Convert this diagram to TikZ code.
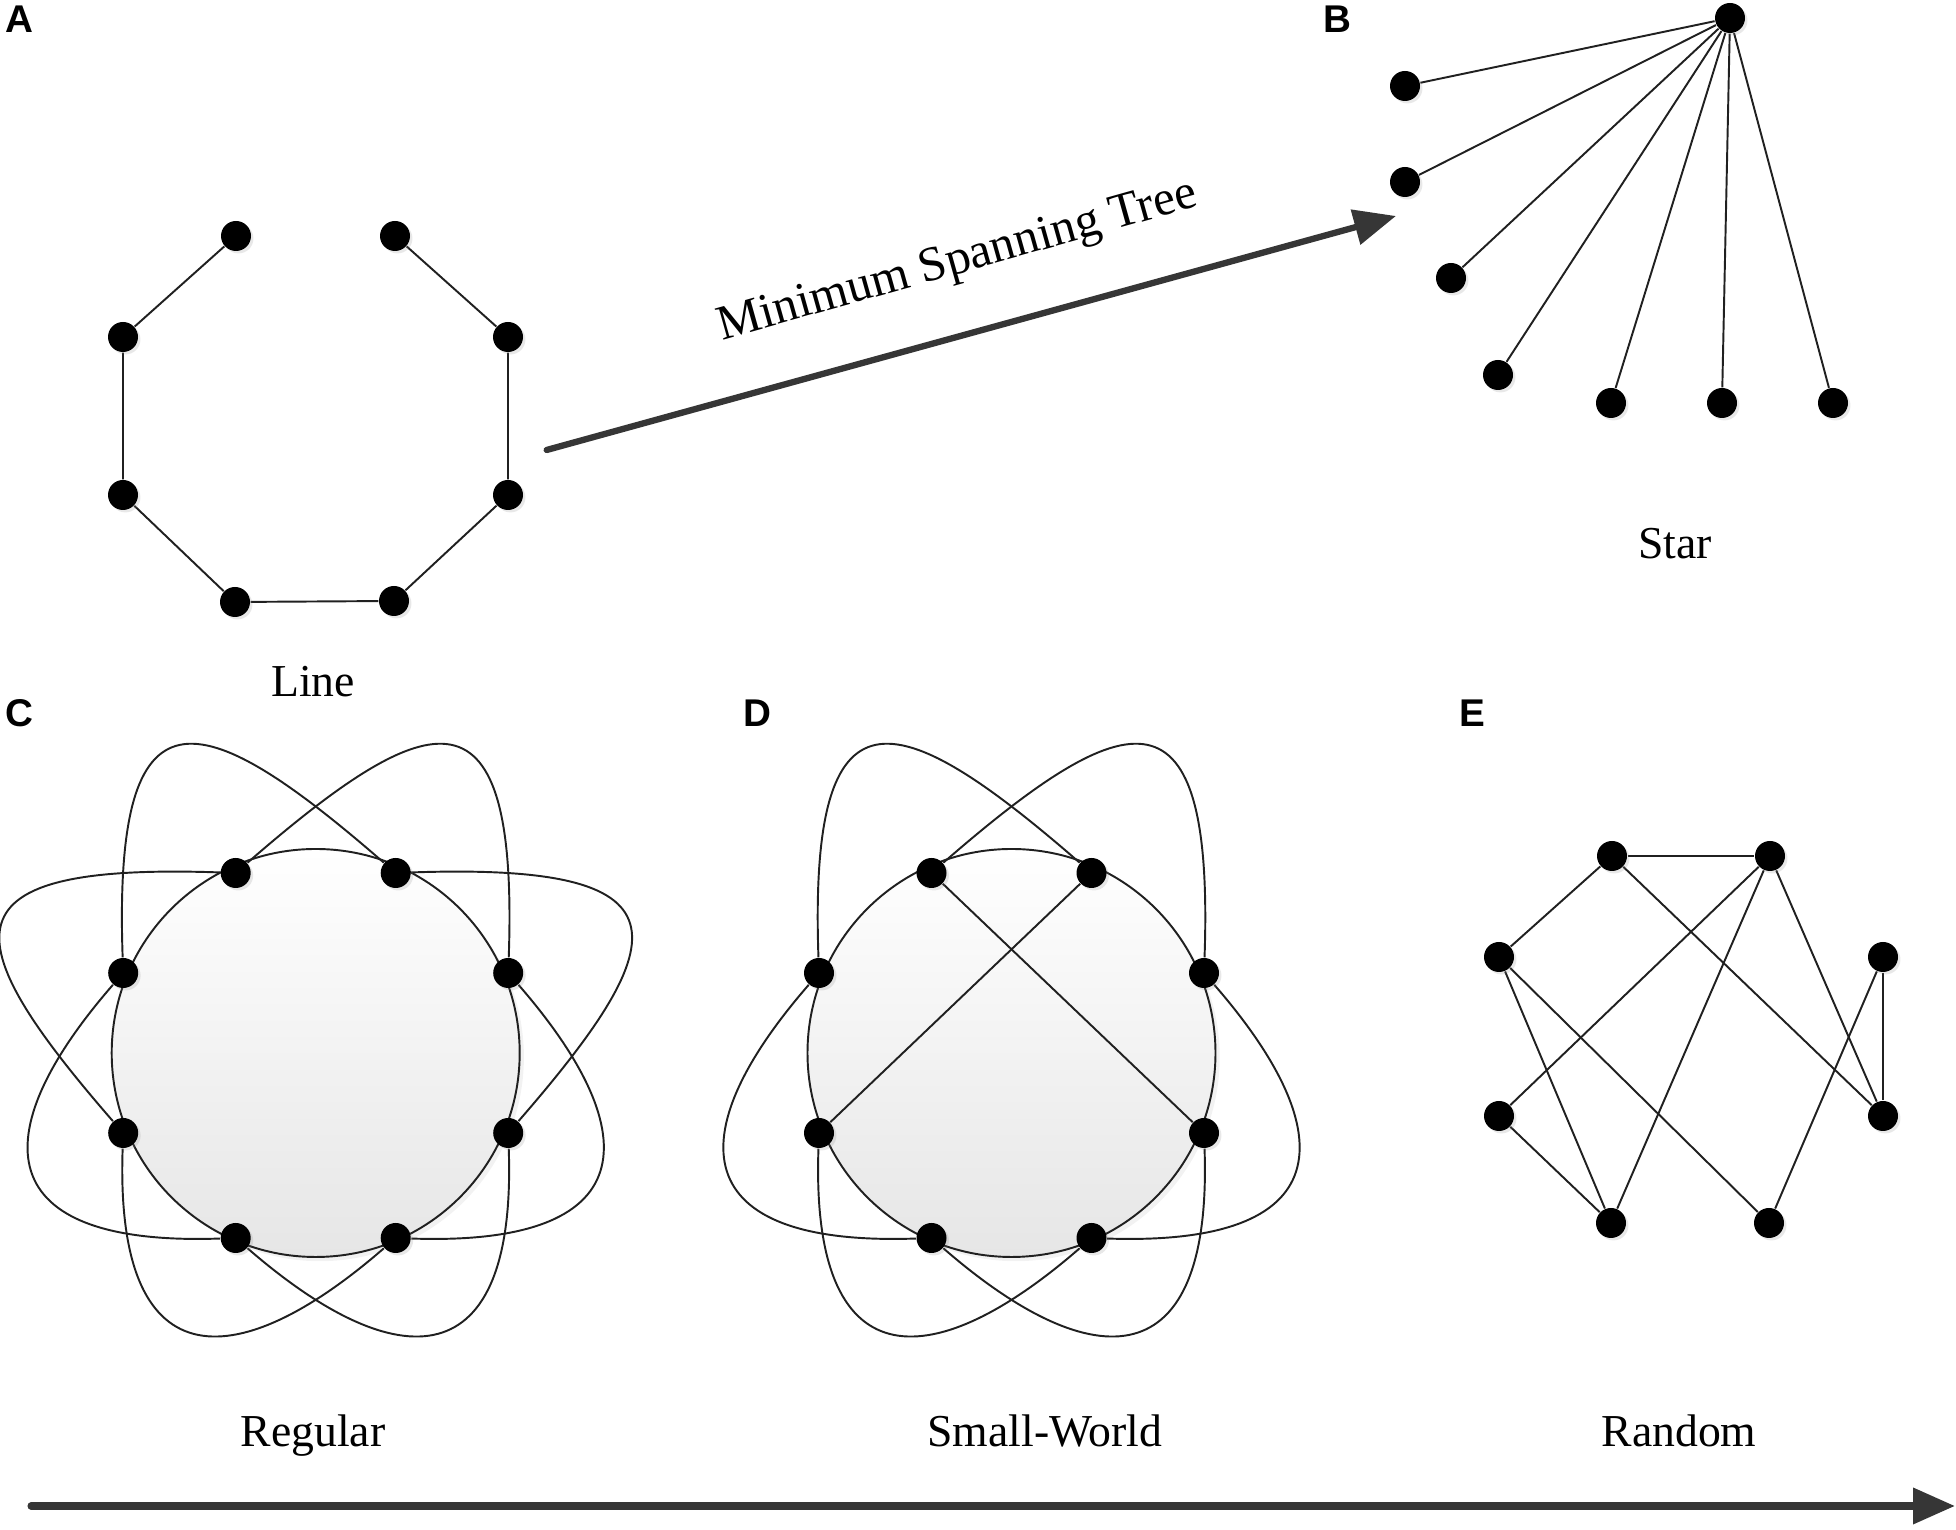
\documentclass[tikz,border=0pt]{standalone}
\usepackage{fontspec}
\setmainfont{Liberation Serif}
\newfontfamily\panelfont{Liberation Sans}
\usetikzlibrary{arrows.meta,shadows,backgrounds}
\definecolor{netline}{HTML}{202020}
\definecolor{netarrow}{HTML}{363636}
\definecolor{ringshade}{HTML}{E6E6E6}

\begin{document}
\begin{tikzpicture}[
    netnode/.style={circle, fill=black, inner sep=0pt, minimum size=0.3cm,
        drop shadow={shadow xshift=0.7pt, shadow yshift=-0.7pt, opacity=0.18}},
    link/.style={draw=netline, line width=0.55pt},
    ring/.style={circle, draw=netline, line width=0.55pt, minimum size=4.08cm, inner sep=0pt,
        top color=white, bottom color=ringshade,
        drop shadow={shadow xshift=1.2pt, shadow yshift=-1.2pt, opacity=0.10}},
    toploop/.style={out distance=2.8cm, in distance=2.45cm},
    lowloop/.style={out distance=2.3cm, in distance=2.0cm},
    bigarrow/.style={draw=netarrow, line width=1.8pt, line cap=round,
        -{Triangle[length=0.42cm, width=0.35cm]}},
    panellabel/.style={font=\panelfont\bfseries\fontsize{11}{13}\selectfont},
    caption/.style={anchor=base, font=\fontsize{13}{15}\selectfont}
]
    \useasboundingbox (0,0) rectangle (19.56,15.30);

    % Panel letters
    \node[panellabel] (labA) at (0.195,15.11) {A};
    \node[panellabel] (labB) at (13.37,15.11) {B};
    \node[panellabel] (labC) at (0.195,8.17) {C};
    \node[panellabel] (labD) at (7.57,8.17) {D};
    \node[panellabel] (labE) at (14.72,8.17) {E};

    % A: line
    \node[netnode] (l1) at (2.36,12.94) {};
    \node[netnode] (l2) at (3.95,12.94) {};
    \node[netnode] (l3) at (5.08,11.93) {};
    \node[netnode] (l4) at (5.08,10.35) {};
    \node[netnode] (l5) at (3.94,9.29) {};
    \node[netnode] (l6) at (2.35,9.28) {};
    \node[netnode] (l7) at (1.23,10.35) {};
    \node[netnode] (l8) at (1.23,11.93) {};
    \begin{pgfonlayer}{background}
        \draw[link] (l1) -- (l8) -- (l7) -- (l6) -- (l5) -- (l4) -- (l3) -- (l2);
    \end{pgfonlayer}
    \node[caption] (capline) at (3.13,8.33) {Line};

    % Minimum spanning tree arrow
    \coordinate (mstfrom) at (5.467,10.80);
    \coordinate (mstto) at (13.96,13.14);
    \draw[bigarrow] (mstfrom) -- (mstto);
    \node[anchor=base, rotate=15.7, font=\fontsize{14}{16}\selectfont] (msttext) at (9.61,12.57)
        {Minimum Spanning Tree};

    % B: star
    \node[netnode] (hub) at (17.30,15.12) {};
    \node[netnode] (st1) at (14.05,14.44) {};
    \node[netnode] (st2) at (14.05,13.48) {};
    \node[netnode] (st3) at (14.51,12.52) {};
    \node[netnode] (st4) at (14.98,11.55) {};
    \node[netnode] (st5) at (16.11,11.27) {};
    \node[netnode] (st6) at (17.22,11.27) {};
    \node[netnode] (st7) at (18.33,11.27) {};
    \begin{pgfonlayer}{background}
        \foreach \leaf in {1,...,7}
            \draw[link] (hub) -- (st\leaf);
    \end{pgfonlayer}
    \node[caption] (capstar) at (16.75,9.71) {Star};

    % C: regular ring lattice
    \node[netnode] (r1) at (2.357,6.57) {};
    \node[netnode] (r2) at (3.957,6.57) {};
    \node[netnode] (r3) at (5.082,5.57) {};
    \node[netnode] (r4) at (5.082,3.97) {};
    \node[netnode] (r5) at (3.957,2.92) {};
    \node[netnode] (r6) at (2.357,2.92) {};
    \node[netnode] (r7) at (1.232,3.97) {};
    \node[netnode] (r8) at (1.232,5.57) {};
    \begin{pgfonlayer}{background}
        \node[ring] (ringC) at (3.157,4.77) {};
        \draw[link] (r1) to[out=178, in=131, toploop] (r7);
        \draw[link] (r8) to[out=92, in=139, toploop] (r2);
        \draw[link] (r2) to[out=2, in=49, toploop] (r4);
        \draw[link] (r3) to[out=88, in=41, toploop] (r1);
        \draw[link] (r7) to[out=268, in=221, lowloop] (r5);
        \draw[link] (r6) to[out=182, in=229, lowloop] (r8);
        \draw[link] (r5) to[out=358, in=311, lowloop] (r3);
        \draw[link] (r4) to[out=272, in=319, lowloop] (r6);
    \end{pgfonlayer}
    \node[caption] (capreg) at (3.13,0.83) {Regular};

    % D: small world (two links rewired)
    \node[netnode] (s1) at (9.315,6.57) {};
    \node[netnode] (s2) at (10.915,6.57) {};
    \node[netnode] (s3) at (12.04,5.57) {};
    \node[netnode] (s4) at (12.04,3.97) {};
    \node[netnode] (s5) at (10.915,2.92) {};
    \node[netnode] (s6) at (9.315,2.92) {};
    \node[netnode] (s7) at (8.19,3.97) {};
    \node[netnode] (s8) at (8.19,5.57) {};
    \begin{pgfonlayer}{background}
        \node[ring] (ringD) at (10.115,4.77) {};
        \draw[link] (s8) to[out=92, in=139, toploop] (s2);
        \draw[link] (s3) to[out=88, in=41, toploop] (s1);
        \draw[link] (s7) to[out=268, in=221, lowloop] (s5);
        \draw[link] (s6) to[out=182, in=229, lowloop] (s8);
        \draw[link] (s5) to[out=358, in=311, lowloop] (s3);
        \draw[link] (s4) to[out=272, in=319, lowloop] (s6);
        \draw[link] (s1) -- (s4);
        \draw[link] (s2) -- (s7);
    \end{pgfonlayer}
    \node[caption] (capsw) at (10.45,0.83) {Small-World};

    % E: random
    \node[netnode] (n1) at (16.12,6.74) {};
    \node[netnode] (n2) at (17.70,6.74) {};
    \node[netnode] (n3) at (18.83,5.73) {};
    \node[netnode] (n4) at (18.83,4.14) {};
    \node[netnode] (n5) at (17.69,3.07) {};
    \node[netnode] (n6) at (16.11,3.07) {};
    \node[netnode] (n7) at (14.99,4.14) {};
    \node[netnode] (n8) at (14.99,5.73) {};
    \begin{pgfonlayer}{background}
        \draw[link] (n1) -- (n2);
        \draw[link] (n1) -- (n8);
        \draw[link] (n1) -- (n4);
        \draw[link] (n2) -- (n7);
        \draw[link] (n2) -- (n6);
        \draw[link] (n2) -- (n4);
        \draw[link] (n8) -- (n6);
        \draw[link] (n8) -- (n5);
        \draw[link] (n7) -- (n6);
        \draw[link] (n3) -- (n4);
        \draw[link] (n3) -- (n5);
    \end{pgfonlayer}
    \node[caption] (caprand) at (16.79,0.83) {Random};

    % Regular -> random axis
    \coordinate (axisfrom) at (0.31,0.24);
    \coordinate (axisto) at (19.55,0.24);
    \draw[bigarrow, line width=2pt] (axisfrom) -- (axisto);
\end{tikzpicture}
\end{document}
